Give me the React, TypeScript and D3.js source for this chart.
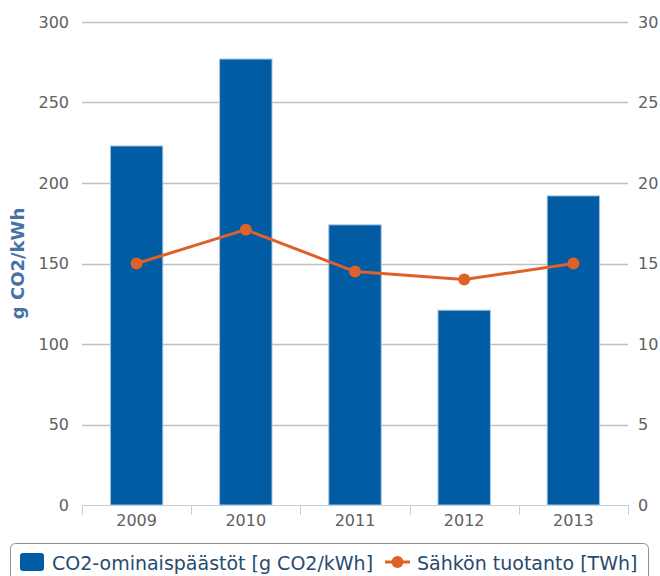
import * as React from 'react';
import * as d3 from 'd3';

const years = ['2009', '2010', '2011', '2012', '2013'];
const co2Values = [223, 277, 174, 121, 192];
const productionValues = [15.0, 17.1, 14.5, 14.0, 15.0];
const leftTicks = [0, 50, 100, 150, 200, 250, 300];
const rightTicks = [0, 5, 10, 15, 20, 25, 30];

const barLabel = 'CO2-ominaispäästöt [g CO2/kWh]';
const lineLabel = 'Sähkön tuotanto [TWh]';
const yTitle = 'g CO2/kWh';

const width = 660;
const height = 576;
const margin = { top: 22, right: 32, bottom: 71, left: 82 };

const font = '"DejaVu Sans", Verdana, sans-serif';
const barColor = '#015ca3';
const lineColor = '#e0602a';

export default function App() {
  const plotW = width - margin.left - margin.right;
  const plotH = height - margin.top - margin.bottom;

  const x = d3.scaleBand().domain(years).range([0, plotW]).paddingInner(0).paddingOuter(0);
  const yLeft = d3.scaleLinear().domain([0, 300]).range([plotH, 0]);
  const yRight = d3.scaleLinear().domain([0, 30]).range([plotH, 0]);

  const barW = x.bandwidth() * 0.48;

  const line = d3
    .line<number>()
    .x((_, i) => (x(years[i]) as number) + x.bandwidth() / 2)
    .y(d => yRight(d));

  const tickEdges = years.map(y => x(y) as number).concat([plotW]);

  return (
    <div style={{ position: 'absolute', left: 0, top: 0 }}>
      <svg width={width} height={height} style={{ display: 'block', fontFamily: font }}>
        <rect width={width} height={height} fill="#fff" />
        <g transform={`translate(${margin.left},${margin.top})`}>
          {leftTicks.slice(1).map(t => (
            <line key={t} x1={0} x2={plotW} y1={Math.round(yLeft(t)) + 0.5} y2={Math.round(yLeft(t)) + 0.5} stroke="#c0c0c0" strokeWidth={1.5} />
          ))}
          {leftTicks.map(t => (
            <text key={t} x={-13} y={yLeft(t)} dy="0.36em" textAnchor="end" fontSize={16} fill="#606060">
              {t}
            </text>
          ))}
          {rightTicks.map(t => (
            <text key={t} x={plotW + 10} y={yRight(t)} dy="0.36em" textAnchor="start" fontSize={16} fill="#606060">
              {t}
            </text>
          ))}
          {years.map((yr, i) => (
            <rect
              key={yr}
              x={(x(yr) as number) + (x.bandwidth() - barW) / 2}
              y={yLeft(co2Values[i])}
              width={barW}
              height={plotH - yLeft(co2Values[i])}
              fill={barColor}
              stroke="#a8c4e0"
              strokeWidth={1}
            />
          ))}
          <line x1={0} x2={plotW} y1={plotH + 0.5} y2={plotH + 0.5} stroke="#c0d0e0" strokeWidth={1} />
          {tickEdges.map((e, i) => (
            <line key={i} x1={Math.round(e) + 0.5} x2={Math.round(e) + 0.5} y1={plotH} y2={plotH + 10} stroke="#c0d0e0" strokeWidth={1} />
          ))}
          {years.map(yr => (
            <text key={yr} x={(x(yr) as number) + x.bandwidth() / 2} y={plotH + 21} textAnchor="middle" fontSize={16} fill="#606060">
              {yr}
            </text>
          ))}
          <path d={line(productionValues) || ''} fill="none" stroke={lineColor} strokeWidth={3} strokeLinejoin="round" />
          {productionValues.map((v, i) => (
            <circle key={i} cx={(x(years[i]) as number) + x.bandwidth() / 2} cy={yRight(v)} r={6} fill={lineColor} />
          ))}
        </g>
        <text
          transform={`translate(${24},${margin.top + plotH / 2}) rotate(-90)`}
          textAnchor="middle"
          fontSize={18}
          fontWeight="bold"
          fill="#4572a7"
        >
          {yTitle}
        </text>
        <g>
          <rect x={10.5} y={543.5} width={638} height={50} rx={5} fill="#fff" stroke="#909090" strokeWidth={1} />
          <rect x={20} y={553} width={24} height={18} rx={3} fill={barColor} />
          <text x={52} y={570} fontSize={19} fill="#274b6d">
            {barLabel}
          </text>
          <line x1={385} x2={410} y1={562} y2={562} stroke={lineColor} strokeWidth={3} />
          <circle cx={397.5} cy={562} r={6} fill={lineColor} />
          <text x={417} y={570} fontSize={19} fill="#274b6d">
            {lineLabel}
          </text>
        </g>
      </svg>
    </div>
  );
}
